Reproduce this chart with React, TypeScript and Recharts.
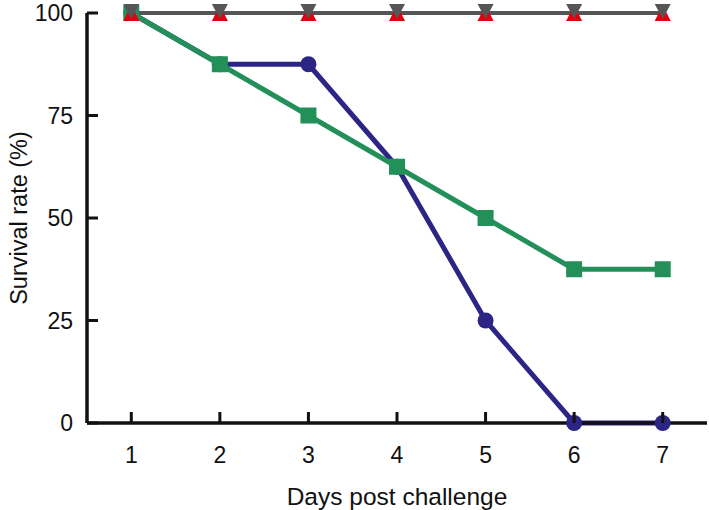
import { CartesianGrid, Line, LineChart, XAxis, YAxis } from 'recharts'

const days = [1, 2, 3, 4, 5, 6, 7]
const blueSurvival = [100, 87.5, 87.5, 62.5, 25, 0, 0]
const greenSurvival = [100, 87.5, 75, 62.5, 50, 37.5, 37.5]
const redSurvival = [100, 100, 100, 100, 100, 100, 100]
const graySurvival = [100, 100, 100, 100, 100, 100, 100]
const yTicks = [0, 25, 50, 75, 100]

const data = days.map((d, i) => ({
  day: d,
  blue: blueSurvival[i],
  green: greenSurvival[i],
  red: redSurvival[i],
  gray: graySurvival[i],
}))

const FONT = "'Liberation Sans', Arial, sans-serif"
const BLUE = '#2d2586'
const GREEN = '#23905a'
const RED = '#e2000f'
const GRAY = '#555555'

// ticks point inward, so draw the tick mark ourselves
const XTick = (props: any) => {
  const { x, y, payload } = props
  return (
    <g>
      <line x1={x} x2={x} y1={y} y2={y - 11} stroke="#111" strokeWidth={3} />
      <text x={x} y={y + 40} textAnchor="middle" fontSize={23} fontFamily={FONT} fill="#111">
        {payload.value}
      </text>
    </g>
  )
}

const YTick = (props: any) => {
  const { x, y, payload } = props
  return (
    <g>
      <line x1={x} x2={x + 11} y1={y} y2={y} stroke="#111" strokeWidth={3} />
      <text x={x - 14} y={y + 8} textAnchor="end" fontSize={23} fontFamily={FONT} fill="#111">
        {payload.value}
      </text>
    </g>
  )
}

const Square = (props: any) => {
  const { cx, cy } = props
  return <rect x={cx - 8} y={cy - 8} width={16} height={16} fill={GREEN} />
}

const UpTriangle = (props: any) => {
  const { cx, cy } = props
  return <path d={`M${cx},${cy - 8} L${cx + 8},${cy + 8} L${cx - 8},${cy + 8} Z`} fill={RED} />
}

const DownTriangle = (props: any) => {
  const { cx, cy } = props
  return <path d={`M${cx - 8},${cy - 9} L${cx + 8},${cy - 9} L${cx},${cy + 6} Z`} fill={GRAY} />
}

export default function App() {
  return (
    <div style={{ position: 'absolute', left: 0, top: 0, background: '#fff' }}>
      <LineChart
        width={709}
        height={510}
        data={data}
        margin={{ top: 13, right: 2, bottom: 0, left: 0 }}
      >
        <CartesianGrid stroke="none" />
        <XAxis
          dataKey="day"
          type="number"
          domain={[0.5, 7.5]}
          ticks={days}
          height={87}
          tickSize={0}
          tickMargin={0}
          tickLine={false}
          axisLine={{ stroke: '#111', strokeWidth: 3.5 }}
          tick={<XTick />}
          label={{
            value: 'Days post challenge',
            position: 'insideBottom',
            offset: 5,
            fontSize: 24.5,
            fontFamily: FONT,
            fill: '#111',
          }}
        />
        <YAxis
          type="number"
          domain={[0, 100]}
          ticks={yTicks}
          width={87}
          tickSize={0}
          tickMargin={0}
          tickLine={false}
          axisLine={{ stroke: '#111', strokeWidth: 3.5 }}
          tick={<YTick />}
          label={{
            value: 'Survival rate (%)',
            angle: -90,
            position: 'insideLeft',
            offset: 19,
            fontSize: 23.5,
            fontFamily: FONT,
            fill: '#111',
            style: { textAnchor: 'middle' },
          }}
        />
        <Line
          dataKey="blue"
          stroke={BLUE}
          strokeWidth={5}
          dot={{ r: 8, fill: BLUE, stroke: 'none' }}
          isAnimationActive={false}
        />
        <Line
          dataKey="green"
          stroke={GREEN}
          strokeWidth={5}
          dot={<Square />}
          isAnimationActive={false}
        />
        <Line
          dataKey="red"
          stroke={RED}
          strokeWidth={4}
          dot={<UpTriangle />}
          isAnimationActive={false}
        />
        <Line
          dataKey="gray"
          stroke={GRAY}
          strokeWidth={4}
          dot={<DownTriangle />}
          isAnimationActive={false}
        />
      </LineChart>
    </div>
  )
}
